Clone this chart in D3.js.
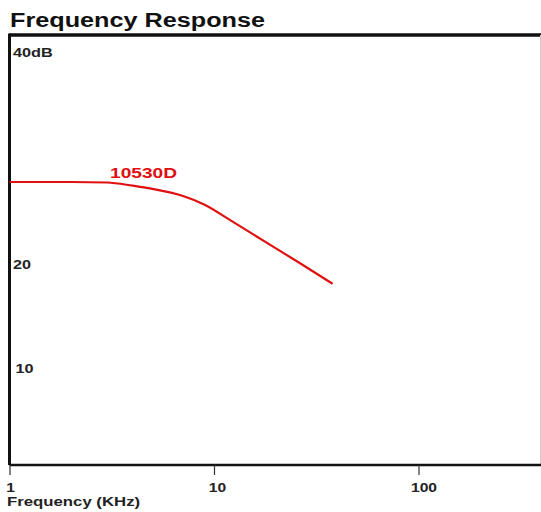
<!DOCTYPE html>
<html>
<head>
<meta charset="utf-8">
<script src="https://cdn.jsdelivr.net/npm/d3@7"></script>
<style>
  html, body { margin: 0; padding: 0; background: #fff; }
  svg { display: block; }
  text { font-family: "Liberation Sans", Arial, Helvetica, sans-serif; }
</style>
</head>
<body>
<svg id="chart" width="541" height="512"></svg>
<script>
// ---- data ----
const freqKHz = [1, 2, 3, 4, 5, 7, 9, 12, 18, 26, 38];
const gainDB  = [26.7, 26.7, 26.65, 26.35, 26.05, 25.4, 24.55, 23.1, 21.0, 19.1, 17.1];
const seriesName = "10530D";
const xTickValues = [1, 10, 100];
const xTickLabels = ["1", "10", "100"];
const yTickValues = [40, 20, 10];
const yTickLabels = ["40dB", "20", "10"];
const titleText = "Frequency Response";
const xAxisTitle = "Frequency (KHz)";

// ---- layout ----
const svg = d3.select("#chart");
const pLeft = 9.5, pRight = 540, pTop = 35, pBottom = 465;

const x = d3.scaleLog().domain([1, 10 ** ((pRight - pLeft) / 204.5)]).range([pLeft, pRight]);
const y = d3.scaleLinear().domain([0, (pBottom - pTop) / 10.6]).range([pBottom, pTop]);

// stretch text horizontally (wide typeface in the original)
function widen(sel, factor) {
  sel.each(function () {
    const w = this.getComputedTextLength();
    d3.select(this).attr("textLength", w * factor).attr("lengthAdjust", "spacingAndGlyphs");
  });
}

// title
svg.append("text")
  .attr("x", 10).attr("y", 27)
  .attr("font-size", 20).attr("font-weight", 900)
  .attr("fill", "#111")
  .attr("textLength", 255).attr("lengthAdjust", "spacingAndGlyphs")
  .text(titleText);

// frame: top line, right faint line
svg.append("line").attr("x1", pLeft).attr("x2", 541).attr("y1", pTop).attr("y2", pTop)
  .attr("stroke", "#111").attr("stroke-width", 3.5);
svg.append("line").attr("x1", pRight + 0.5).attr("x2", pRight + 0.5).attr("y1", pTop).attr("y2", pBottom)
  .attr("stroke", "#ccc").attr("stroke-width", 1);

// x axis
const xAxis = d3.axisBottom(x)
  .tickValues(xTickValues)
  .tickSize(10)
  .tickFormat((d, i) => xTickLabels[i]);
const gx = svg.append("g").attr("transform", `translate(0,${pBottom})`).call(xAxis);
gx.select(".domain").attr("stroke", "#111").attr("stroke-width", 2.5).attr("d", `M${pLeft},0H541`);
gx.selectAll(".tick line").attr("stroke", "#333").attr("stroke-width", 1.2);
const xt = gx.selectAll(".tick text")
  .attr("font-size", 12.5).attr("font-weight", "bold").attr("fill", "#222")
  .attr("font-family", "'Liberation Sans', Arial, sans-serif")
  .attr("y", 27).attr("dy", 0).attr("dx", (d) => d === 1 ? 0.5 : (d === 10 ? 3 : 5));
widen(xt, 1.25);

const xTitle = svg.append("text")
  .attr("x", 7).attr("y", 505.5)
  .attr("font-size", 12.5).attr("font-weight", "bold").attr("fill", "#222")
  .text(xAxisTitle);
widen(xTitle, 1.34);

// y axis (labels inside, just below value)
const yAxis = d3.axisRight(y)
  .tickValues(yTickValues)
  .tickSize(0)
  .tickFormat((d, i) => yTickLabels[i]);
const gy = svg.append("g").attr("transform", `translate(${pLeft},0)`).call(yAxis);
gy.select(".domain").attr("stroke", "#111").attr("stroke-width", 3).attr("d", `M0,${pTop - 1.5}V${pBottom}`);
const yt = gy.selectAll(".tick text")
  .attr("font-size", 12.5).attr("font-weight", "bold").attr("fill", "#222")
  .attr("font-family", "'Liberation Sans', Arial, sans-serif")
  .attr("x", 3.5).attr("dy", 0).attr("y", (d) => d === 10 ? 13 : 15.5);
gy.selectAll(".tick").filter(d => d === 10).select("text").attr("x", 6);
widen(yt, 1.3);

// curve
const pts = freqKHz.map((f, i) => [f, gainDB[i]]);
const line = d3.line().x(d => x(d[0])).y(d => y(d[1])).curve(d3.curveMonotoneX);
svg.append("path").datum(pts)
  .attr("d", line)
  .attr("fill", "none")
  .attr("stroke", "#e01010")
  .attr("stroke-width", 2.2);

// series label
const sl = svg.append("text")
  .attr("x", 110).attr("y", 178)
  .attr("font-size", 15).attr("font-weight", "bold").attr("fill", "#e01010")
  .text(seriesName);
sl.attr("textLength", 67).attr("lengthAdjust", "spacingAndGlyphs");
</script>
</body>
</html>
